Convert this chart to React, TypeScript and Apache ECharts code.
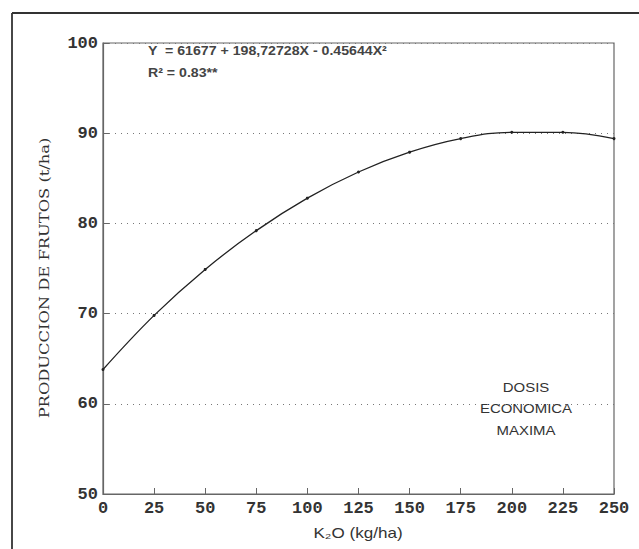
import React, { useEffect, useRef } from "react";
import * as echarts from "echarts";

const doseK2O = [0, 25, 50, 75, 100, 125, 150, 175, 200, 225, 250];
const yieldValues = [63.8, 69.8, 74.9, 79.2, 82.8, 85.7, 87.9, 89.4, 90.1, 90.1, 89.4];
const xTicks = { min: 0, max: 250, interval: 25 };
const yTicks = { min: 50, max: 100, interval: 10 };
const equationLine = "Y  = 61677 + 198,72728X - 0.45644X²";
const r2Line = "R² = 0.83**";
const noteLines = ["DOSIS", "ECONOMICA", "MAXIMA"];
const xAxisTitle = "K₂O (kg/ha)";
const yAxisTitle = "PRODUCCION DE FRUTOS (t/ha)";

export default function App() {
  const ref = useRef<HTMLDivElement>(null);
  useEffect(() => {
    if (!ref.current) return;
    const chart = echarts.init(ref.current, undefined, { renderer: "svg" });
    const data = doseK2O.map((x, i) => [x, yieldValues[i]]);
    const gridLeft = 103, gridTop = 43, gridW = 511, gridH = 451;
    const tickFont = { fontFamily: "Liberation Mono", fontSize: 17, fontWeight: "bold", color: "#333" };
    chart.setOption({
      animation: false,
      backgroundColor: "#ffffff",
      grid: {
        left: gridLeft,
        top: gridTop,
        width: gridW,
        height: gridH,
        show: true,
        borderColor: "#666",
        borderWidth: 1.2,
      },
      xAxis: {
        type: "value",
        min: xTicks.min,
        max: xTicks.max,
        interval: xTicks.interval,
        axisLine: { show: true, lineStyle: { color: "#666", width: 1.2 } },
        axisTick: { show: true, inside: true, length: 6, lineStyle: { color: "#666" } },
        axisLabel: { ...tickFont, margin: 6 },
        splitLine: { show: false },
      },
      yAxis: {
        type: "value",
        min: yTicks.min,
        max: yTicks.max,
        interval: yTicks.interval,
        axisLine: { show: true, lineStyle: { color: "#666", width: 1.2 } },
        axisTick: { show: true, inside: true, length: 6, lineStyle: { color: "#666" } },
        axisLabel: { ...tickFont, margin: 5 },
        splitLine: {
          show: true,
          lineStyle: { type: [1, 5], color: "#777", width: 1.2 },
        },
      },
      series: [
        {
          type: "line",
          data,
          smooth: 0.4,
          showSymbol: true,
          symbol: "circle",
          symbolSize: 3,
          itemStyle: { color: "#222" },
          lineStyle: { color: "#222", width: 1.3 },
        },
      ],
      graphic: [
        { type: "line", shape: { x1: 12, y1: 13, x2: 639, y2: 13 }, style: { stroke: "#333", lineWidth: 1.8 } },
        { type: "line", shape: { x1: 12, y1: 13, x2: 12, y2: 549 }, style: { stroke: "#333", lineWidth: 1.8 } },
        {
          type: "text",
          x: 45,
          y: 278,
          rotation: Math.PI / 2,
          scaleX: 1.36,
          style: { text: yAxisTitle, fontFamily: "DejaVu Serif", fontSize: 12, fill: "#333", align: "center", verticalAlign: "middle" },
        },
        {
          type: "text",
          x: 358,
          y: 533,
          scaleX: 1.22,
          style: { text: xAxisTitle, fontFamily: "Liberation Sans", fontSize: 14, fill: "#333", align: "center", verticalAlign: "middle" },
        },
        {
          type: "text",
          x: 148,
          y: 51,
          scaleX: 1.18,
          style: { text: equationLine, fontFamily: "Liberation Sans", fontSize: 12, fontWeight: "bold", fill: "#444", verticalAlign: "middle" },
        },
        {
          type: "text",
          x: 148,
          y: 73,
          scaleX: 1.18,
          style: { text: r2Line, fontFamily: "Liberation Sans", fontSize: 12, fontWeight: "bold", fill: "#444", verticalAlign: "middle" },
        },
        ...noteLines.map((t, i) => ({
          type: "text",
          x: 526,
          y: 387 + i * 21.5,
          scaleX: 1.15,
          style: { text: t, fontFamily: "Liberation Sans", fontSize: 13, fill: "#333", align: "center", verticalAlign: "middle" },
        })),
      ],
    });
    return () => chart.dispose();
  }, []);
  return (
    <div
      ref={ref}
      style={{ position: "absolute", left: 0, top: 0, width: 639, height: 549 }}
    />
  );
}
